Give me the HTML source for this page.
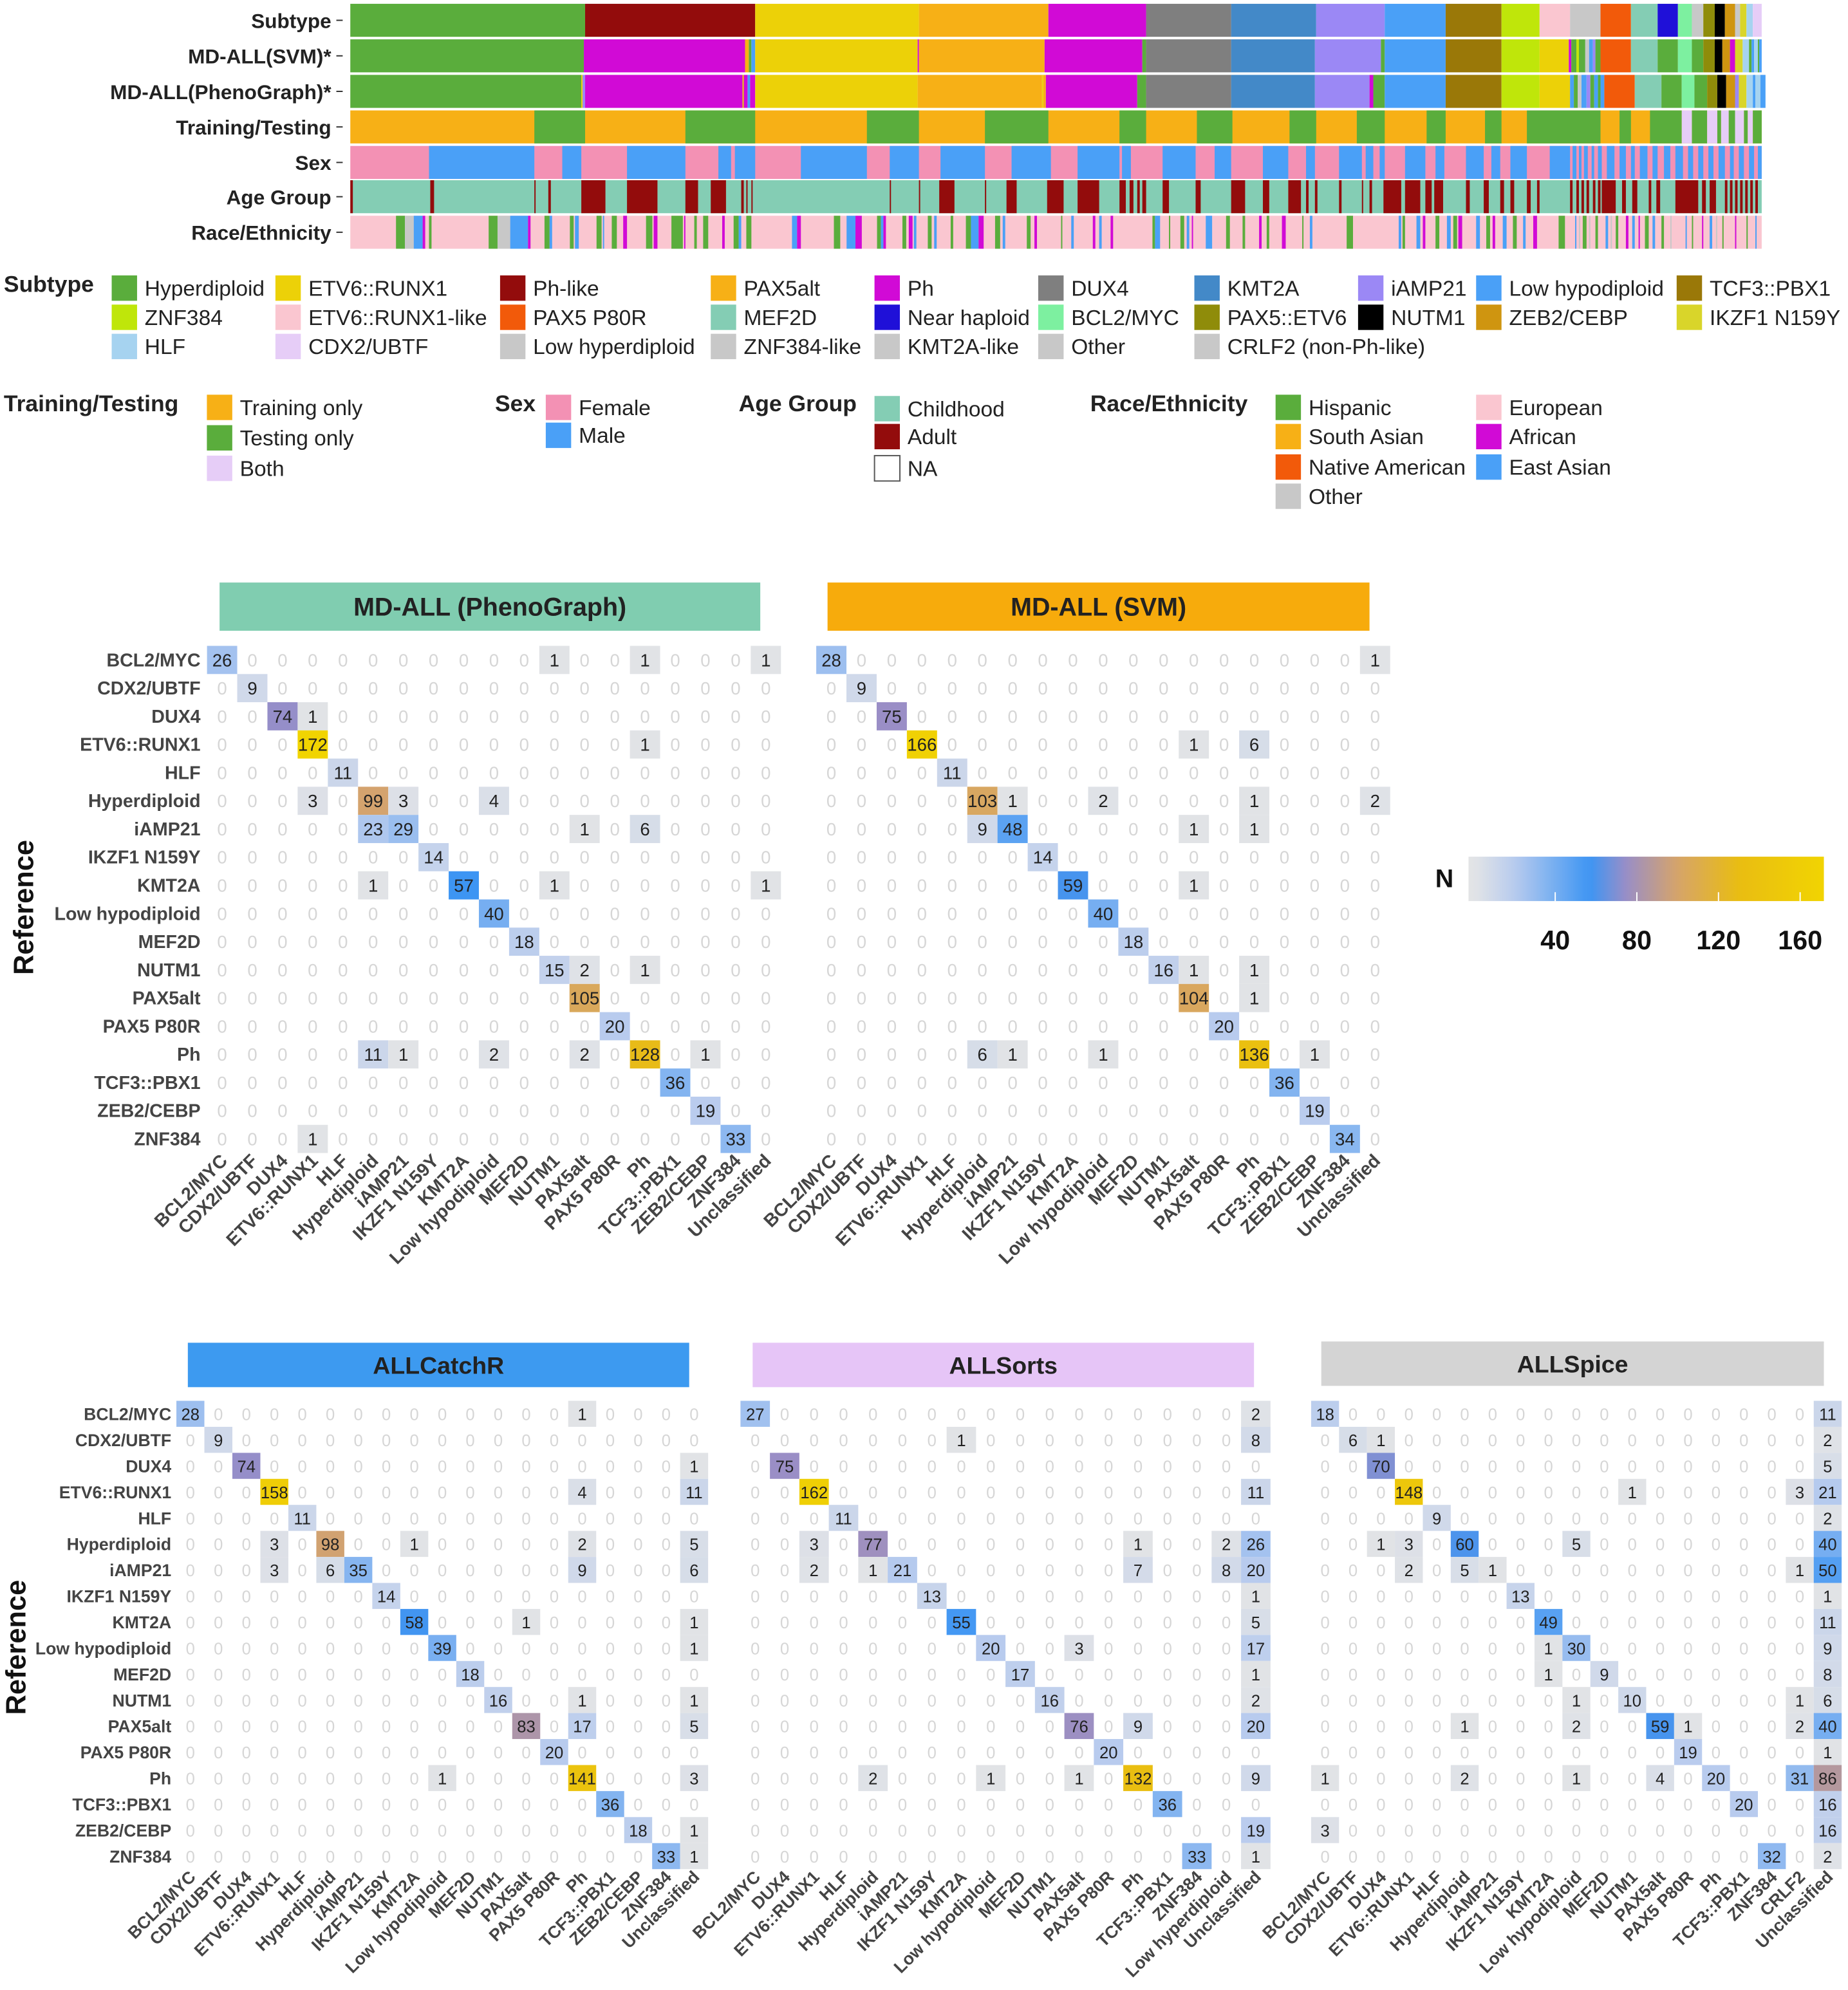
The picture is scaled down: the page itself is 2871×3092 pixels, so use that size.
<!DOCTYPE html>
<html><head><meta charset="utf-8"><style>
html,body{margin:0;padding:0;background:#fff;}
svg{display:block;font-family:"Liberation Sans",Arial,sans-serif;}
</style></head><body>
<svg id="fig" xmlns="http://www.w3.org/2000/svg" width="2871" height="3092" viewBox="0 0 1456 1568" preserveAspectRatio="none"></svg>
<script>
// ---------- data ----------
const subtypeNames = ["Hyperdiploid","Ph-like","ETV6::RUNX1","PAX5alt","Ph","DUX4","KMT2A","iAMP21","Low hypodiploid","TCF3::PBX1","ZNF384","ETV6::RUNX1-like","Low hyperdiploid","PAX5 P80R","MEF2D","Near haploid","BCL2/MYC","KMT2A-like","PAX5::ETV6","NUTM1","ZEB2/CEBP","ZNF384-like","IKZF1 N159Y","HLF","CDX2/UBTF"];
const subtypeCounts = [185,134,129,102,77,67,67,54,48,44,30,24,24,24,21,16,11,9,9,8,8,4,5,5,7];
const svmSeq = [["Hyperdiploid",184],["Ph",127],["PAX5alt",3],["Hyperdiploid",2],["Low hypodiploid",3],["ETV6::RUNX1",128],["Ph",1],["PAX5alt",99],["Ph",77],["Hyperdiploid",3],["DUX4",67],["KMT2A",66],["iAMP21",52],["Hyperdiploid",3],["Low hypodiploid",48],["TCF3::PBX1",44],["ZNF384",30],["ETV6::RUNX1",23],["Ph",2],["Hyperdiploid",4],["ZNF384",2],["Hyperdiploid",5],["Low hyperdiploid",3],["Low hypodiploid",3],["iAMP21",2],["Hyperdiploid",4],["PAX5 P80R",24],["MEF2D",21],["Hyperdiploid",16],["BCL2/MYC",11],["Hyperdiploid",9],["PAX5::ETV6",9],["NUTM1",6],["ZEB2/CEBP",6],["Ph",4],["IKZF1 N159Y",6],["HLF",5],["Hyperdiploid",2],["Low hypodiploid",2],["HLF",3],["Hyperdiploid",1],["Low hypodiploid",2]];
const pgSeq = [["Hyperdiploid",182],["ETV6::RUNX1",1],["iAMP21",2],["Ph",124],["ETV6::RUNX1",1],["Ph",3],["Low hypodiploid",2],["Ph",4],["ETV6::RUNX1",128],["PAX5alt",98],["ETV6::RUNX1",1],["PAX5alt",2],["Ph",72],["Hyperdiploid",7],["DUX4",67],["KMT2A",66],["iAMP21",43],["Ph",3],["Hyperdiploid",9],["Low hypodiploid",48],["TCF3::PBX1",44],["ZNF384",30],["ETV6::RUNX1",24],["Low hypodiploid",3],["Hyperdiploid",3],["Low hyperdiploid",3],["Low hypodiploid",4],["iAMP21",3],["Hyperdiploid",3],["Low hypodiploid",3],["Hyperdiploid",2],["Low hypodiploid",3],["PAX5 P80R",24],["MEF2D",21],["Hyperdiploid",16],["BCL2/MYC",10],["Hyperdiploid",10],["PAX5::ETV6",8],["NUTM1",7],["ZEB2/CEBP",7],["iAMP21",3],["IKZF1 N159Y",6],["HLF",5],["Low hypodiploid",2],["HLF",4],["Low hypodiploid",4]];
const trainGreen = [[145,185],[264,319],[407,448],[500,550],[606,627],[667,695],[740,761],[793,815],[848,863],[894,907],[927,985],[1000,1009],[1024,1049],[1057,1069],[1077,1080],[1086,1091],[1098,1101],[1105,1112]];
const trainBoth = [[1049,1057],[1069,1077],[1080,1086],[1091,1098],[1101,1105]];
const sexMale = [[62,145],[167,182],[218,264],[290,300],[303,319],[355,407],[425,448],[465,500],[521,552],[573,606],[608,615],[640,666],[681,694],[719,739],[753,760],[779,797],[800,806],[811,815],[831,847],[855,862],[879,893],[899,906],[914,927],[945,961],[963,966],[968,970],[972,975],[978,980],[983,986],[990,996],[1000,1005],[1009,1012],[1016,1022],[1026,1030],[1035,1040],[1044,1050],[1054,1058],[1062,1066],[1070,1074],[1078,1083],[1087,1090],[1094,1098],[1102,1106],[1109,1112]];
const ageAdult = [[0,2],[63,66],[145,146],[156,158],[182,201],[218,242],[264,274],[284,296],[308,310],[312,313],[316,317],[425,426],[448,449],[464,476],[500,501],[517,525],[549,562],[573,590],[606,611],[614,617],[620,622],[624,627],[640,645],[666,670],[694,705],[719,724],[739,749],[753,755],[760,762],[779,781],[797,798],[803,805],[814,828],[831,843],[847,852],[854,861],[879,882],[893,897],[906,909],[914,917],[927,930],[935,937],[961,963],[966,968],[970,972],[974,976],[979,981],[983,985],[986,997],[1002,1005],[1010,1014],[1023,1025],[1029,1032],[1044,1062],[1065,1068],[1071,1076],[1083,1085],[1087,1089],[1091,1093],[1095,1097],[1099,1101],[1103,1105],[1107,1109]];
const raceStripes = [[36,43,"H"],[43,50,"O"],[50,57,"E"],[57,59,"A"],[62,64,"H"],[109,116,"H"],[116,126,"O"],[126,140,"E"],[140,142,"A"],[153,157,"H"],[157,159,"E"],[173,176,"H"],[177,180,"E"],[194,198,"H"],[199,200,"E"],[206,210,"H"],[215,218,"A"],[233,238,"H"],[239,242,"A"],[253,262,"H"],[263,264,"A"],[271,273,"H"],[278,282,"H"],[293,295,"A"],[302,306,"H"],[306,308,"E"],[312,316,"H"],[348,352,"E"],[352,355,"A"],[381,386,"H"],[391,398,"E"],[398,403,"A"],[415,418,"H"],[418,420,"E"],[420,422,"A"],[435,438,"H"],[440,443,"A"],[444,446,"E"],[455,458,"H"],[460,462,"E"],[473,475,"H"],[485,489,"H"],[489,495,"E"],[495,499,"A"],[508,512,"H"],[514,516,"E"],[533,536,"H"],[539,541,"A"],[560,561,"H"],[568,570,"E"],[585,587,"A"],[590,592,"E"],[599,601,"A"],[632,634,"H"],[634,638,"E"],[645,646,"H"],[654,657,"H"],[659,661,"E"],[663,664,"A"],[674,679,"E"],[690,693,"H"],[703,705,"H"],[716,718,"A"],[722,724,"H"],[734,737,"A"],[750,751,"H"],[756,758,"E"],[785,790,"H"],[826,828,"E"],[829,831,"H"],[840,843,"E"],[845,847,"A"],[855,858,"H"],[864,867,"E"],[869,872,"H"],[873,876,"A"],[887,890,"E"],[895,898,"H"],[900,902,"A"],[908,911,"E"],[916,919,"H"],[924,926,"E"],[932,935,"A"],[952,957,"H"],[965,966,"E"],[968,969,"O"],[971,974,"H"],[976,977,"O"],[981,983,"H"],[989,991,"E"],[993,994,"O"],[997,999,"H"],[1005,1007,"A"],[1010,1012,"E"],[1015,1016,"A"],[1020,1023,"H"],[1026,1028,"E"],[1033,1035,"H"],[1040,1041,"O"],[1052,1053,"E"],[1057,1058,"H"],[1065,1066,"A"],[1071,1073,"E"],[1076,1077,"O"],[1081,1082,"H"],[1091,1092,"A"],[1100,1101,"H"],[1107,1108,"E"]];

const rowLabels = ["BCL2/MYC","CDX2/UBTF","DUX4","ETV6::RUNX1","HLF","Hyperdiploid","iAMP21","IKZF1 N159Y","KMT2A","Low hypodiploid","MEF2D","NUTM1","PAX5alt","PAX5 P80R","Ph","TCF3::PBX1","ZEB2/CEBP","ZNF384"];
const colsStd = ["BCL2/MYC","CDX2/UBTF","DUX4","ETV6::RUNX1","HLF","Hyperdiploid","iAMP21","IKZF1 N159Y","KMT2A","Low hypodiploid","MEF2D","NUTM1","PAX5alt","PAX5 P80R","Ph","TCF3::PBX1","ZEB2/CEBP","ZNF384","Unclassified"];
const colsSorts = ["BCL2/MYC","DUX4","ETV6::RUNX1","HLF","Hyperdiploid","iAMP21","IKZF1 N159Y","KMT2A","Low hypodiploid","MEF2D","NUTM1","PAX5alt","PAX5 P80R","Ph","TCF3::PBX1","ZNF384","Low hyperdiploid","Unclassified"];
const colsSpice = ["BCL2/MYC","CDX2/UBTF","DUX4","ETV6::RUNX1","HLF","Hyperdiploid","iAMP21","IKZF1 N159Y","KMT2A","Low hypodiploid","MEF2D","NUTM1","PAX5alt","PAX5 P80R","Ph","TCF3::PBX1","ZNF384","CRLF2","Unclassified"];
// nonzero cells: [row, col, count]
const pgCells = [[0,0,26],[0,11,1],[0,14,1],[0,18,1],[1,1,9],[2,2,74],[2,3,1],[3,3,172],[3,14,1],[4,4,11],[5,3,3],[5,5,99],[5,6,3],[5,9,4],[6,5,23],[6,6,29],[6,12,1],[6,14,6],[7,7,14],[8,5,1],[8,8,57],[8,11,1],[8,18,1],[9,9,40],[10,10,18],[11,11,15],[11,12,2],[11,14,1],[12,12,105],[13,13,20],[14,5,11],[14,6,1],[14,9,2],[14,12,2],[14,14,128],[14,16,1],[15,15,36],[16,16,19],[17,3,1],[17,17,33]];
const svmCells = [[0,0,28],[0,18,1],[1,1,9],[2,2,75],[3,3,166],[3,12,1],[3,14,6],[4,4,11],[5,5,103],[5,6,1],[5,9,2],[5,14,1],[5,18,2],[6,5,9],[6,6,48],[6,12,1],[6,14,1],[7,7,14],[8,8,59],[8,12,1],[9,9,40],[10,10,18],[11,11,16],[11,12,1],[11,14,1],[12,12,104],[12,14,1],[13,13,20],[14,5,6],[14,6,1],[14,9,1],[14,14,136],[14,16,1],[15,15,36],[16,16,19],[17,17,34]];
const catchCells = [[0,0,28],[0,14,1],[1,1,9],[2,2,74],[2,18,1],[3,3,158],[3,14,4],[3,18,11],[4,4,11],[5,3,3],[5,5,98],[5,8,1],[5,14,2],[5,18,5],[6,3,3],[6,5,6],[6,6,35],[6,14,9],[6,18,6],[7,7,14],[8,8,58],[8,12,1],[8,18,1],[9,9,39],[9,18,1],[10,10,18],[11,11,16],[11,14,1],[11,18,1],[12,12,83],[12,14,17],[12,18,5],[13,13,20],[14,9,1],[14,14,141],[14,18,3],[15,15,36],[16,16,18],[16,18,1],[17,17,33],[17,18,1]];
const sortsCells = [[0,0,27],[0,17,2],[1,7,1],[1,17,8],[2,1,75],[3,2,162],[3,17,11],[4,3,11],[5,2,3],[5,4,77],[5,13,1],[5,16,2],[5,17,26],[6,2,2],[6,4,1],[6,5,21],[6,13,7],[6,16,8],[6,17,20],[7,6,13],[7,17,1],[8,7,55],[8,17,5],[9,8,20],[9,11,3],[9,17,17],[10,9,17],[10,17,1],[11,10,16],[11,17,2],[12,11,76],[12,13,9],[12,17,20],[13,12,20],[14,4,2],[14,8,1],[14,11,1],[14,13,132],[14,17,9],[15,14,36],[16,17,19],[17,15,33],[17,17,1]];
const spiceCells = [[0,0,18],[0,18,11],[1,1,6],[1,2,1],[1,18,2],[2,2,70],[2,18,5],[3,3,148],[3,11,1],[3,17,3],[3,18,21],[4,4,9],[4,18,2],[5,2,1],[5,3,3],[5,5,60],[5,9,5],[5,18,40],[6,3,2],[6,5,5],[6,6,1],[6,17,1],[6,18,50],[7,7,13],[7,18,1],[8,8,49],[8,18,11],[9,8,1],[9,9,30],[9,18,9],[10,8,1],[10,10,9],[10,18,8],[11,9,1],[11,11,10],[11,17,1],[11,18,6],[12,5,1],[12,9,2],[12,12,59],[12,13,1],[12,17,2],[12,18,40],[13,13,19],[13,18,1],[14,0,1],[14,5,2],[14,9,1],[14,12,4],[14,14,20],[14,17,31],[14,18,86],[15,15,20],[15,18,16],[16,0,3],[16,18,16],[17,16,32],[17,18,2]];
const colorbarTicks = [40,80,120,160];

// ---------- helpers ----------
const NS="http://www.w3.org/2000/svg";
const svg=document.getElementById('fig');
function mk(tag,attrs,parent){const e=document.createElementNS(NS,tag);for(const k in attrs)e.setAttribute(k,attrs[k]);(parent||svg).appendChild(e);return e;}
function txt(s,attrs,parent){const e=mk('text',attrs,parent);e.textContent=s;return e;}
const subtypeColor={"Hyperdiploid":"#5aad3c","Ph-like":"#930c0c","ETV6::RUNX1":"#ecd108","PAX5alt":"#f7b016","Ph":"#d10ad6","DUX4":"#7f7f7f","KMT2A":"#4389c8","iAMP21":"#9b88f5","Low hypodiploid":"#4aa0f7","TCF3::PBX1":"#9a7808","ZNF384":"#bfe60a","ETV6::RUNX1-like":"#fac6d0","Low hyperdiploid":"#c8c8c8","PAX5 P80R":"#f25a0a","MEF2D":"#84cdb4","Near haploid":"#1f10d8","BCL2/MYC":"#7df0a0","KMT2A-like":"#c8c8c8","PAX5::ETV6":"#8f8c0a","NUTM1":"#000000","ZEB2/CEBP":"#cf9510","ZNF384-like":"#c8c8c8","IKZF1 N159Y":"#d9d52a","HLF":"#a6d3f0","CDX2/UBTF":"#e6cdf7","Other":"#c8c8c8","CRLF2 (non-Ph-like)":"#c8c8c8"};
const raceColor={H:"#5aad3c",S:"#f7b016",N:"#f25a0a",O:"#c8c8c8",U:"#fac6d0",A:"#d10ad6",E:"#4aa0f7"};

// ---------- annotation tracks ----------
const TX0=276, NS_TOTAL=1112, TX1=1388;
const sx=s=>TX0+s*(TX1-TX0)/NS_TOTAL;
const trackNames=["Subtype","MD-ALL(SVM)*","MD-ALL(PhenoGraph)*","Training/Testing","Sex","Age Group","Race/Ethnicity"];
const trackY=[3,31,59,87,115,142,170], trackH=26;
const tg=mk('g',{});


trackNames.forEach((n,i)=>{
  const t=txt(n,{x:261,y:trackY[i]+19,'text-anchor':'end','font-size':16,'font-weight':'bold',fill:'#222'},tg);
  
  
  mk('line',{x1:265,x2:270,y1:trackY[i]+13,y2:trackY[i]+13,stroke:'#333','stroke-width':1},tg);
});
function seg(s0,s1,row,color,name){
  const r=mk('rect',{x:sx(s0),y:trackY[row],width:Math.max(0.6,sx(s1)-sx(s0)),height:trackH,fill:color},tg);
  
  
}
let acc=0;
subtypeNames.forEach((n,i)=>{seg(acc,acc+subtypeCounts[i],0,subtypeColor[n],'subtype-segment');acc+=subtypeCounts[i];});
acc=0; svmSeq.forEach(([n,c])=>{seg(acc,acc+c,1,subtypeColor[n],'svm-segment');acc+=c;});
acc=0; pgSeq.forEach(([n,c])=>{seg(acc,acc+c,2,subtypeColor[n],'phenograph-segment');acc+=c;});
seg(0,NS_TOTAL,3,'#f7b016','training-segment');
trainGreen.forEach(([a,b])=>seg(a,b,3,'#5aad3c','testing-segment'));
trainBoth.forEach(([a,b])=>seg(a,b,3,'#e6cdf7','both-segment'));
seg(0,NS_TOTAL,4,'#f391b4','female-segment');
sexMale.forEach(([a,b])=>seg(a,b,4,'#4aa0f7','male-segment'));
seg(0,NS_TOTAL,5,'#84cdb4','childhood-segment');
ageAdult.forEach(([a,b])=>seg(a,b,5,'#930c0c','adult-segment'));
seg(0,NS_TOTAL,6,'#fac6d0','european-segment');
raceStripes.forEach(([a,b,c])=>seg(a,b,6,raceColor[c],'race-segment'));

// ---------- legends ----------
function legendEntry(x,y,label,color,border){
  const g=mk('g',{});
  
  
  mk('rect',{x:x,y:y-10,width:20,height:20,fill:color,stroke:border?'#555':'none','stroke-width':border?1:0},g);
  txt(label,{x:x+26,y:y+6,'font-size':17,fill:'#222'},g);
}
function legendTitle(x,y,s){
  const t=txt(s,{x:x,y:y,'font-size':18,'font-weight':'bold',fill:'#222'});
  
  
}
legendTitle(3,230,'Subtype');
const lgColX=[88,217,394,560,689,818,941,1070,1163,1321];
const lgRows=[["Hyperdiploid","ETV6::RUNX1","Ph-like","PAX5alt","Ph","DUX4","KMT2A","iAMP21","Low hypodiploid","TCF3::PBX1"],
["ZNF384","ETV6::RUNX1-like","PAX5 P80R","MEF2D","Near haploid","BCL2/MYC","PAX5::ETV6","NUTM1","ZEB2/CEBP","IKZF1 N159Y"],
["HLF","CDX2/UBTF","Low hyperdiploid","ZNF384-like","KMT2A-like","Other","CRLF2 (non-Ph-like)"]];
const lgY=[227,250,273];
lgRows.forEach((r,ri)=>r.forEach((n,ci)=>legendEntry(lgColX[ci],lgY[ri],n,subtypeColor[n])));
legendTitle(3,324,'Training/Testing');
legendEntry(163,321,'Training only','#f7b016');legendEntry(163,345,'Testing only','#5aad3c');legendEntry(163,369,'Both','#e6cdf7');
legendTitle(390,324,'Sex');
legendEntry(430,321,'Female','#f391b4');legendEntry(430,343,'Male','#4aa0f7');
legendTitle(582,324,'Age Group');
legendEntry(689,322,'Childhood','#84cdb4');legendEntry(689,344,'Adult','#930c0c');legendEntry(689,369,'NA','#ffffff',true);
legendTitle(859,324,'Race/Ethnicity');
legendEntry(1005,321,'Hispanic','#5aad3c');legendEntry(1005,344,'South Asian','#f7b016');legendEntry(1005,368,'Native American','#f25a0a');legendEntry(1005,391,'Other','#c8c8c8');
legendEntry(1163,321,'European','#fac6d0');legendEntry(1163,344,'African','#d10ad6');legendEntry(1163,368,'East Asian','#4aa0f7');

// ---------- colour scale ----------
const stops=[[0,[227,228,230]],[20,[184,203,238]],[57,[61,149,243]],[75,[154,142,198]],[100,[214,164,106]],[130,[233,189,18]],[175,[242,214,0]]];
function colorFor(v){
  if(v<=stops[0][0])return 'rgb('+stops[0][1]+')';
  for(let i=1;i<stops.length;i++){if(v<=stops[i][0]){const [a,ca]=stops[i-1],[b,cb]=stops[i];const t=(v-a)/(b-a);return 'rgb('+ca.map((c,k)=>Math.round(c+(cb[k]-c)*t)).join(',')+')';}}
  return 'rgb('+stops[stops.length-1][1]+')';
}

// ---------- heatmaps ----------
function heatmap(o){
  const g=mk('g',{});
  
  
  const X=c=>o.x0+c*o.dx, Y=r=>o.y0+r*o.dy;
  const tb=mk('rect',{x:o.tx0,y:o.ty0,width:o.tx1-o.tx0,height:o.th,fill:o.tcol},g);
  
  
  const tt=txt(o.title,{x:(o.tx0+o.tx1)/2,y:o.ty0+o.th/2+7,'text-anchor':'middle','font-size':o.tfs,'font-weight':'bold',fill:'#222'},g);
  
  
  const M=rowLabels.map(()=>o.cols.map(()=>0));
  o.cells.forEach(([r,c,v])=>{M[r][c]=v;});
  rowLabels.forEach((rl,r)=>{
    if(o.rowLab){
      const l=txt(rl,{x:o.rowLabX,y:Y(r)+5,'text-anchor':'end','font-size':o.lfs,'font-weight':'bold',fill:'#444'},g);
      
      
    }
    o.cols.forEach((cl,c)=>{
      const v=M[r][c];
      if(v>0){
        const cell=mk('rect',{x:X(c)-o.dx/2,y:Y(r)-o.dy/2,width:o.dx,height:o.dy,fill:colorFor(v)},g);
        
        
      }
      const t=txt(String(v),{x:X(c),y:Y(r)+5,'text-anchor':'middle','font-size':o.cfs,fill:v>0?'#222':'#d6d6d6'},g);
      
      
    });
  });
  const ly=Y(rowLabels.length-1)+o.dy/2+7;
  o.cols.forEach((cl,c)=>{
    const x=X(c)+5;
    const t=txt(cl,{x:x,y:ly,'text-anchor':'end','font-size':o.lfs,'font-weight':'bold',fill:'#444',transform:'rotate(-45 '+x+' '+ly+')'},g);
    
    
  });
}
heatmap({name:'heatmap-phenograph',title:'MD-ALL (PhenoGraph)',tcol:'#80cdb0',tx0:173,tx1:599,ty0:459,th:38,tfs:20,cols:colsStd,cells:pgCells,x0:175,dx:23.8,y0:520,dy:22.2,rowLab:true,rowLabX:158,lfs:14.5,cfs:14});
heatmap({name:'heatmap-svm',title:'MD-ALL (SVM)',tcol:'#f7ab0c',tx0:652,tx1:1079,ty0:459,th:38,tfs:20,cols:colsStd,cells:svmCells,x0:655,dx:23.8,y0:520,dy:22.2,rowLab:false,lfs:14.5,cfs:14});
heatmap({name:'heatmap-allcatchr',title:'ALLCatchR',tcol:'#3d9af0',tx0:148,tx1:543,ty0:1058,th:35,tfs:19,cols:colsStd,cells:catchCells,x0:150,dx:22.05,y0:1114,dy:20.5,rowLab:true,rowLabX:135,lfs:13.5,cfs:13});
heatmap({name:'heatmap-allsorts',title:'ALLSorts',tcol:'#e6c5f7',tx0:593,tx1:988,ty0:1058,th:35,tfs:19,cols:colsSorts,cells:sortsCells,x0:595,dx:23.2,y0:1114,dy:20.5,rowLab:false,lfs:13.5,cfs:13});
heatmap({name:'heatmap-allspice',title:'ALLSpice',tcol:'#d4d4d4',tx0:1041,tx1:1437,ty0:1057,th:35,tfs:19,cols:colsSpice,cells:spiceCells,x0:1044,dx:22,y0:1114,dy:20.5,rowLab:false,lfs:13.5,cfs:13});

// axis titles
[[18,707],[12,1290]].forEach(([x,y])=>{
  const t=txt('Reference',{x:x,y:y,'text-anchor':'middle','font-size':22,'font-weight':'bold',fill:'#111',transform:'rotate(-90 '+(x+8)+' '+y+')'});
  
  
});

// colour bar
const cbx=v=>1161+v*1.608;
const defs=mk('defs',{});
const lg=mk('linearGradient',{id:'cbg',x1:0,x2:1,y1:0,y2:0},defs);
for(let v=-2;v<=172;v+=4){mk('stop',{offset:((cbx(v)-1157)/280),'stop-color':colorFor(v)},lg);}
const cb=mk('rect',{x:1157,y:675,width:280,height:35,fill:'url(#cbg)'});


const nlab=txt('N',{x:1138,y:699,'text-anchor':'middle','font-size':20,'font-weight':'bold',fill:'#111'});


colorbarTicks.forEach(v=>{
  mk('line',{x1:cbx(v),x2:cbx(v),y1:703,y2:710,stroke:'#fff','stroke-width':1});
  const t=txt(String(v),{x:cbx(v),y:748,'text-anchor':'middle','font-size':21,'font-weight':'bold',fill:'#111'});
  
  
});
</script>
</body></html>
